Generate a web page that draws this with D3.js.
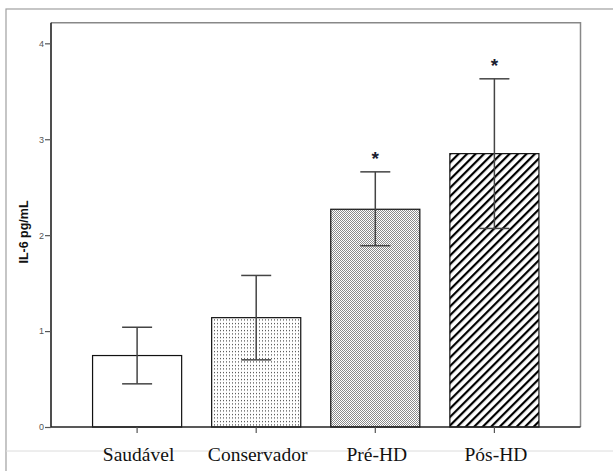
<!DOCTYPE html>
<html><head><meta charset="utf-8">
<script src="https://cdn.jsdelivr.net/npm/d3@7"></script>
<style>html,body{margin:0;padding:0;background:#fff;}</style>
</head><body>
<script>
const categories = ["Saudável", "Conservador", "Pré-HD", "Pós-HD"];
const means = [0.745, 1.14, 2.27, 2.85];
const errLow = [0.45, 0.70, 1.89, 2.07];
const errHigh = [1.04, 1.58, 2.66, 3.63];
const significant = [false, false, true, true];
const fills = ["white", "url(#dots)", "url(#checker)", "url(#hatch)"];
const yTicks = [0, 1, 2, 3, 4];
const yLabel = "IL-6 pg/mL";

(function () {
const W = 613, H = 471;
const svg = d3.select("body").append("svg").attr("width", W).attr("height", H);

const defs = svg.append("defs");
const pd = defs.append("pattern").attr("id", "dots").attr("patternUnits", "userSpaceOnUse").attr("width", 3).attr("height", 3.5);
pd.append("rect").attr("width", 3).attr("height", 3.5).attr("fill", "#fff");
pd.append("rect").attr("x", 1).attr("y", 1).attr("width", 1).attr("height", 1).attr("fill", "#222");
const pc = defs.append("pattern").attr("id", "checker").attr("patternUnits", "userSpaceOnUse").attr("width", 2).attr("height", 2);
pc.append("rect").attr("width", 2).attr("height", 2).attr("fill", "#ffffff");
pc.append("rect").attr("x", 0).attr("y", 0).attr("width", 1).attr("height", 1).attr("fill", "#8a8a8a");
pc.append("rect").attr("x", 1).attr("y", 1).attr("width", 1).attr("height", 1).attr("fill", "#8a8a8a");
const ph = defs.append("pattern").attr("id", "hatch").attr("patternUnits", "userSpaceOnUse").attr("width", 6).attr("height", 6).attr("patternTransform", "rotate(45)");
ph.append("rect").attr("width", 6).attr("height", 6).attr("fill", "#fff");
ph.append("rect").attr("x", 0).attr("y", 0).attr("width", 2.2).attr("height", 6).attr("fill", "#000");

// outer frame
svg.append("rect").attr("x", 6).attr("y", 9).attr("width", 640).attr("height", 500).attr("fill", "none").attr("stroke", "#a0a0a0").attr("stroke-width", 1.2);
svg.append("line").attr("x1", 6).attr("x2", W).attr("y1", 451).attr("y2", 451).attr("stroke", "#dcdcdc").attr("stroke-width", 1);

const pLeft = 51, pRight = 580.5, pTop = 22.7, pBottom = 427;
const x = d3.scaleBand().domain(categories).range([pLeft, pRight]).paddingInner(0.252).paddingOuter(0.349);
const y = d3.scaleLinear().domain([0, 4.215]).range([pBottom, pTop]);

// plot frame top/right
svg.append("path").attr("d", `M${pLeft},${pTop}H${pRight}V${pBottom}`).attr("fill", "none").attr("stroke", "#888").attr("stroke-width", 1.5);

// bars
svg.selectAll("rect.bar").data(categories).enter().append("rect").attr("class", "bar")
  .attr("x", d => x(d)).attr("width", x.bandwidth())
  .attr("y", (d, i) => y(means[i])).attr("height", (d, i) => y(0) - y(means[i]))
  .attr("fill", (d, i) => fills[i]).attr("stroke", "#111").attr("stroke-width", 1.2);

// error bars
const cap = 15;
categories.forEach((c, i) => {
  const cx = x(c) + x.bandwidth() / 2;
  const g = svg.append("g").attr("stroke", "#444").attr("stroke-width", 1.5);
  g.append("line").attr("x1", cx).attr("x2", cx).attr("y1", y(errLow[i])).attr("y2", y(errHigh[i]));
  g.append("line").attr("x1", cx - cap).attr("x2", cx + cap).attr("y1", y(errLow[i])).attr("y2", y(errLow[i]));
  g.append("line").attr("x1", cx - cap).attr("x2", cx + cap).attr("y1", y(errHigh[i])).attr("y2", y(errHigh[i]));
  if (significant[i]) {
    svg.append("text").attr("x", cx).attr("y", y(errHigh[i]) - 7).attr("text-anchor", "middle")
      .attr("font-family", "Liberation Sans, Arial, sans-serif").attr("font-size", 19).attr("font-weight", "bold")
      .attr("fill", "#1a2030").text("*");
  }
});

// y axis
const yAxis = svg.append("g").attr("transform", `translate(${pLeft},0)`)
  .call(d3.axisLeft(y).tickValues(yTicks).tickFormat(d3.format("d")).tickSize(6).tickPadding(1));
yAxis.select(".domain").attr("stroke", "#222").attr("stroke-width", 1.6).attr("d", `M0,${pBottom}V${pTop}`);
yAxis.selectAll(".tick line").attr("stroke", "#555").attr("stroke-width", 1.2);
yAxis.selectAll(".tick text").attr("font-family", "Liberation Sans, Arial, sans-serif").attr("font-size", 9).attr("fill", "#555");

// x axis
const xAxis = svg.append("g").attr("transform", `translate(0,${pBottom})`)
  .call(d3.axisBottom(x).tickSize(6).tickPadding(14));
xAxis.select(".domain").attr("stroke", "#222").attr("stroke-width", 1.6).attr("d", `M${pLeft},0H${pRight}`);
xAxis.selectAll(".tick line").attr("stroke", "#555").attr("stroke-width", 1.2);
xAxis.selectAll(".tick text").attr("font-family", "Liberation Serif, 'Times New Roman', serif").attr("font-size", 19.5).attr("fill", "#111").attr("dx", 1.5);

// y label
svg.append("text").attr("transform", "translate(28,232) rotate(-90)").attr("text-anchor", "middle")
  .attr("font-family", "Liberation Sans, Arial, sans-serif").attr("font-size", 12.5).attr("font-weight", "bold").attr("fill", "#111")
  .text(yLabel);
})();
</script>
</body></html>
